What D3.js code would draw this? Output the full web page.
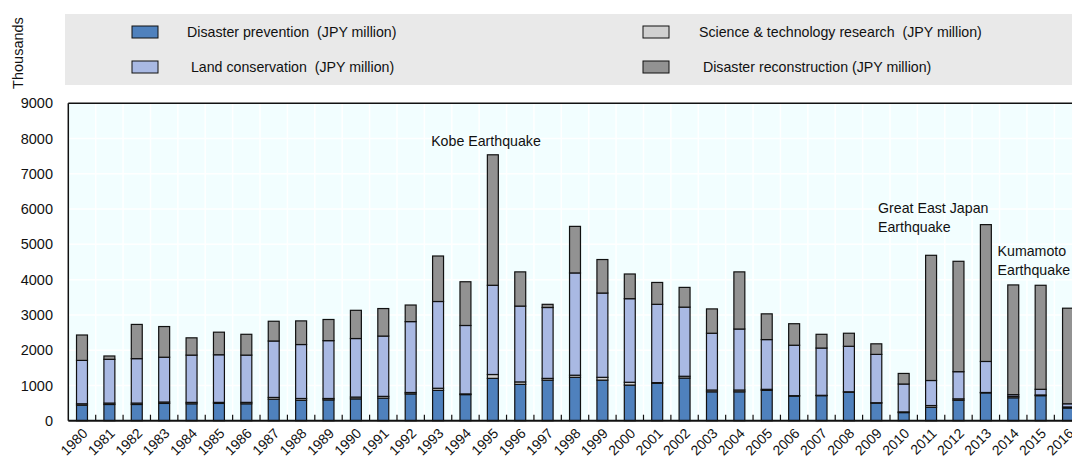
<!DOCTYPE html>
<html>
<head>
<meta charset="utf-8">
<script src="https://cdnjs.cloudflare.com/ajax/libs/d3/7.8.5/d3.min.js"></script>
<style>
  body { margin: 0; background: #fff; }
  svg text { font-family: "Liberation Sans", Arial, sans-serif; fill: #111; }
</style>
</head>
<body>
<div id="chart"></div>
<script>
// Données (milliers)
var years = ["1980","1981","1982","1983","1984","1985","1986","1987","1988","1989",
             "1990","1991","1992","1993","1994","1995","1996","1997","1998","1999",
             "2000","2001","2002","2003","2004","2005","2006","2007","2008","2009",
             "2010","2011","2012","2013","2014","2015","2016"];
var prevention = [440,460,460,490,480,490,480,610,580,590,620,640,760,860,740,1200,1030,1150,1230,1150,
                  1010,1060,1210,820,820,860,700,710,810,500,230,380,580,790,650,710,360];
var science = [40,40,40,40,40,30,40,50,50,40,50,50,40,60,20,110,70,50,60,80,
               80,20,50,50,50,30,10,10,10,10,20,50,40,10,40,20,30];
var land = [1230,1240,1260,1270,1340,1350,1340,1600,1530,1640,1660,1710,2010,2460,1940,2530,2150,2010,2900,2390,
            2370,2220,1960,1610,1730,1410,1430,1340,1290,1370,790,710,770,880,50,160,90];
var reconstruction = [720,95,970,870,490,640,590,560,670,600,800,780,470,1290,1240,3700,970,90,1320,950,
                      700,620,560,690,1620,730,610,390,370,300,300,3550,3130,3880,3110,2950,2710];
var yTicks = [0,1000,2000,3000,4000,5000,6000,7000,8000,9000];

var series = [
  {key: "prevention", label: "Disaster prevention  (JPY million)", color: "#4f81bd", values: prevention},
  {key: "science", label: "Science & technology research  (JPY million)", color: "#d0d0d0", values: science},
  {key: "land", label: " Land conservation  (JPY million)", color: "#a9b9e3", values: land},
  {key: "reconstruction", label: " Disaster reconstruction (JPY million)", color: "#929292", values: reconstruction}
];

var annotations = [
  {lines: ["Kobe Earthquake"], year: "1995", dx: -48, value: 7800},
  {lines: ["Great East Japan", "Earthquake"], year: "2010", dx: -12, value: 5900},
  {lines: ["Kumamoto", "Earthquake"], year: "2014", dx: -2, value: 4680}
];

var table = years.map(function(yr, i) {
  var row = {year: yr};
  series.forEach(function(s) { row[s.key] = s.values[i]; });
  return row;
});

var W = 1072, H = 458;
var plotLeft = 68.3, plotTop = 103.3, plotBottom = 420.7;
var step = 27.39;

var svg = d3.select("#chart").append("svg")
  .attr("width", W).attr("height", H);

// Légende
svg.append("rect").attr("x", 65).attr("y", 14).attr("width", W - 65).attr("height", 71)
  .attr("fill", "#e9e9e9");
var legendPos = [
  {sx: 132, tx: 187, y: 32},
  {sx: 643, tx: 699, y: 32},
  {sx: 132, tx: 187, y: 67},
  {sx: 643, tx: 699, y: 67}
];
series.forEach(function(s, i) {
  var p = legendPos[i];
  svg.append("rect").attr("x", p.sx).attr("y", p.y - 6).attr("width", 26).attr("height", 12)
    .attr("fill", s.color).attr("stroke", "#111").attr("stroke-width", 1);
  svg.append("text").attr("x", p.tx).attr("y", p.y).attr("dy", "0.35em")
    .style("font-size", "14.2px").style("white-space", "pre")
    .text(s.label);
});

// Échelles
var x = d3.scaleBand().domain(years).range([plotLeft, plotLeft + step * years.length]).padding(0);
var y = d3.scaleLinear().domain([0, 9000]).range([plotBottom, plotTop]);
var barW = x.bandwidth() * 0.4;

// Fond
svg.append("rect").attr("x", plotLeft).attr("y", plotTop).attr("width", W - plotLeft).attr("height", plotBottom - plotTop)
  .attr("fill", "#f2feff");

// Grille
svg.append("g").selectAll("line").data(yTicks.slice(1)).enter().append("line")
  .attr("x1", plotLeft).attr("x2", W).attr("y1", function(d) { return y(d); }).attr("y2", function(d) { return y(d); })
  .attr("stroke", "#fff").attr("stroke-width", 1.5);
svg.append("g").selectAll("line").data(years.slice(1)).enter().append("line")
  .attr("x1", function(d) { return x(d); }).attr("x2", function(d) { return x(d); })
  .attr("y1", plotTop).attr("y2", plotBottom)
  .attr("stroke", "#fff").attr("stroke-width", 1.5);

// Barres empilées
var stack = d3.stack().keys(series.map(function(s) { return s.key; }));
var stacked = stack(table);

svg.append("g").selectAll("g").data(stacked).enter().append("g")
  .attr("fill", function(d, i) { return series[i].color; })
  .selectAll("rect").data(function(d) { return d; }).enter().append("rect")
    .attr("x", function(d) { return x(d.data.year) + (x.bandwidth() - barW) / 2; })
    .attr("y", function(d) { return y(d[1]); })
    .attr("width", barW)
    .attr("height", function(d) { return y(d[0]) - y(d[1]); })
    .attr("stroke", "#111").attr("stroke-width", 1.2);

// Cadre
svg.append("line").attr("x1", plotLeft).attr("x2", W).attr("y1", plotTop).attr("y2", plotTop)
  .attr("stroke", "#111").attr("stroke-width", 1.5);
svg.append("line").attr("x1", plotLeft).attr("x2", plotLeft).attr("y1", plotTop).attr("y2", plotBottom)
  .attr("stroke", "#111").attr("stroke-width", 1.5);

// Axe Y
svg.append("g").selectAll("text").data(yTicks).enter().append("text")
  .attr("x", 53).attr("y", function(d) { return y(d); }).attr("dy", "0.35em")
  .attr("text-anchor", "end").style("font-size", "14.5px")
  .text(function(d) { return d; });

// Axe X
var xAxis = svg.append("g").attr("transform", "translate(0," + plotBottom + ")");
xAxis.selectAll("line.tick").data(years.slice(1)).enter().append("line")
  .attr("x1", function(d) { return x(d); }).attr("x2", function(d) { return x(d); })
  .attr("y1", 0).attr("y2", -6).attr("stroke", "#111").attr("stroke-width", 1.2);
xAxis.append("line").attr("x1", plotLeft).attr("x2", W).attr("y1", 0).attr("y2", 0)
  .attr("stroke", "#111").attr("stroke-width", 2);
xAxis.selectAll("text").data(years).enter().append("text")
  .attr("transform", function(d) {
    return "translate(" + (x(d) + x.bandwidth() / 2 + 3) + ",10) rotate(-45)";
  })
  .attr("text-anchor", "end").attr("dy", "0.35em").style("font-size", "14px")
  .text(function(d) { return d; });

// Titre de l'axe
svg.append("text").attr("transform", "translate(18,53) rotate(-90)")
  .attr("text-anchor", "middle").attr("dy", "0.35em").style("font-size", "14.5px")
  .text("Thousands");

// Annotations
annotations.forEach(function(a) {
  var t = svg.append("text").attr("x", x(a.year) + a.dx).attr("y", y(a.value))
    .style("font-size", "14.2px");
  a.lines.forEach(function(l, i) {
    t.append("tspan").attr("x", x(a.year) + a.dx).attr("dy", i === 0 ? 0 : "1.35em").text(l);
  });
});
</script>
</body>
</html>
